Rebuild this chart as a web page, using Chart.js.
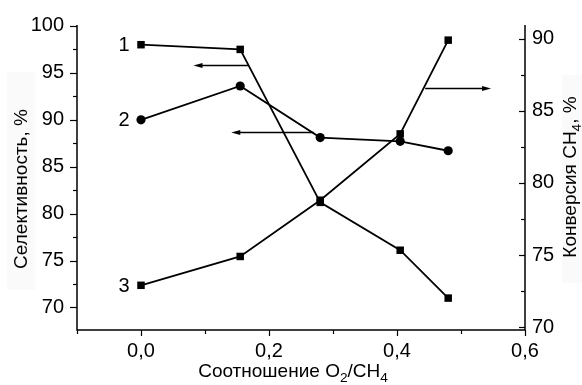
<!DOCTYPE html>
<html>
<head>
<meta charset="utf-8">
<script src="https://cdn.jsdelivr.net/npm/chart.js@4"></script>
<style>
html,body{margin:0;padding:0;background:#fff;}
#wrap{width:582px;height:385px;position:relative;}
</style>
</head>
<body>
<div id="wrap"><canvas id="c" width="582" height="385"></canvas></div>
<script>
// ---- data ----
const ratioO2CH4 = [0, 0.155, 0.28, 0.405, 0.48];
const selectivity1 = [98.0, 97.5, 81.2, 76.1, 71.0];
const selectivity2 = [90.0, 93.6, 88.1, 87.7, 86.7];
const conversion3 = [72.9, 74.9, 78.8, 83.4, 89.9];
const seriesLabels = ['1', '2', '3'];
const xTickValues = [0, 0.2, 0.4, 0.6];
const xMinorTicks = [-0.1, 0.1, 0.3, 0.5];
const leftTickValues = [70, 75, 80, 85, 90, 95, 100];
const leftMinorTicks = [72.5, 77.5, 82.5, 87.5, 92.5, 97.5];
const rightTickValues = [70, 75, 80, 85, 90];
const rightMinorTicks = [72.5, 77.5, 82.5, 87.5];
const xTitle = [['Соотношение O', 0], ['2', 1], ['/CH', 0], ['4', 1]];
const leftTitle = [['Селективность, %', 0]];
const rightTitle = [['Конверсия CH', 0], ['4', 1], [', %', 0]];
// arrows: [x from, x to, y, axis]
const arrows = [[0.168, 0.082, 95.8, 'y'], [0.27, 0.141, 88.7, 'y'], [0.444, 0.547, 86.6, 'y2']];

const FONT = "'Liberation Sans', Arial, sans-serif";
const pts = (ys) => ratioO2CH4.map((x, i) => ({x, y: ys[i]}));

function drawRich(ctx, parts, size) {
  let w = 0;
  parts.forEach(([t, s]) => { ctx.font = (s ? size * 0.72 : size) + 'px ' + FONT; w += ctx.measureText(t).width; });
  let x = -w / 2;
  parts.forEach(([t, s]) => {
    ctx.font = (s ? size * 0.72 : size) + 'px ' + FONT;
    ctx.fillText(t, x, s ? size * 0.32 : 0);
    x += ctx.measureText(t).width;
  });
}

const deco = {
  id: 'deco',
  beforeDraw(chart) {
    const ctx = chart.ctx;
    ctx.save();
    ctx.fillStyle = '#fafafa';
    ctx.fillRect(7, 72, 28, 218);
    ctx.fillRect(562, 75, 20, 208);
    ctx.restore();
  },
  afterDraw(chart) {
    const ctx = chart.ctx, a = chart.chartArea;
    const sx = chart.scales.x, sy = chart.scales.y, sy2 = chart.scales.y2;
    ctx.save();
    ctx.strokeStyle = '#000'; ctx.fillStyle = '#000';
    ctx.lineWidth = 1.5;
    ctx.beginPath();
    ctx.moveTo(a.left, a.top); ctx.lineTo(a.left, a.bottom); ctx.lineTo(a.right, a.bottom); ctx.lineTo(a.right, a.top);
    ctx.stroke();
    ctx.lineWidth = 1.2;
    const vt = (scale, vals, x0, len) => vals.forEach(v => { const y = Math.round(scale.getPixelForValue(v)) + 0.5; ctx.beginPath(); ctx.moveTo(x0, y); ctx.lineTo(x0 + len, y); ctx.stroke(); });
    vt(sy, leftTickValues, a.left, -7);
    vt(sy, leftMinorTicks, a.left, -4);
    vt(sy2, rightTickValues, a.right, -6);
    vt(sy2, rightMinorTicks, a.right, -4);
    const ht = (vals, len) => vals.forEach(v => { const x = Math.round(sx.getPixelForValue(v)) + 0.5; ctx.beginPath(); ctx.moveTo(x, a.bottom); ctx.lineTo(x, a.bottom + len); ctx.stroke(); });
    ht(xTickValues, 6);
    ht(xMinorTicks, 4);
    // arrows
    ctx.lineWidth = 1.3;
    arrows.forEach(([x1, x2, yv, ax]) => {
      const p1 = sx.getPixelForValue(x1), p2 = sx.getPixelForValue(x2);
      const y = Math.round(chart.scales[ax].getPixelForValue(yv)) + 0.5;
      const d = p2 > p1 ? 1 : -1;
      ctx.beginPath(); ctx.moveTo(p1, y); ctx.lineTo(p2 - d * 6, y); ctx.stroke();
      ctx.beginPath(); ctx.moveTo(p2, y); ctx.lineTo(p2 - d * 9, y - 2.5); ctx.lineTo(p2 - d * 9, y + 2.5); ctx.closePath(); ctx.fill();
    });
    // series labels
    ctx.font = '20px ' + FONT;
    ctx.textAlign = 'center'; ctx.textBaseline = 'middle';
    const firsts = [[selectivity1[0], 'y'], [selectivity2[0], 'y'], [conversion3[0], 'y2']];
    firsts.forEach(([v, ax], i) => {
      ctx.fillText(seriesLabels[i], sx.getPixelForValue(ratioO2CH4[0]) - 17, chart.scales[ax].getPixelForValue(v) + 1);
    });
    // titles
    ctx.textAlign = 'left';
    ctx.save(); ctx.translate((a.left + a.right) / 2 - 8, 372); drawRich(ctx, xTitle, 19); ctx.restore();
    ctx.save(); ctx.translate(22, 189); ctx.rotate(-Math.PI / 2); drawRich(ctx, leftTitle, 19); ctx.restore();
    ctx.save(); ctx.translate(571, 177); ctx.rotate(-Math.PI / 2); drawRich(ctx, rightTitle, 19); ctx.restore();
    ctx.restore();
  }
};

const ds = (data, axis, style, r) => ({
  data, yAxisID: axis, borderColor: '#000', backgroundColor: '#000', borderWidth: 1.8,
  pointStyle: style, pointRadius: r, pointHoverRadius: r, pointBorderWidth: 0, tension: 0, fill: false
});

new Chart(document.getElementById('c'), {
  type: 'line',
  data: {
    datasets: [
      ds(pts(selectivity1), 'y', 'rect', 5.3),
      ds(pts(selectivity2), 'y', 'circle', 4.6),
      ds(pts(conversion3), 'y2', 'rect', 5.3)
    ]
  },
  options: {
    responsive: false, animation: false, devicePixelRatio: 1,
    layout: { padding: { top: 21, left: 0, right: 0, bottom: 0 } },
    plugins: { legend: { display: false }, tooltip: { enabled: false } },
    scales: {
      x: {
        type: 'linear', min: -0.1, max: 0.6,
        grid: { display: false, drawTicks: false }, border: { display: false },
        afterBuildTicks: s => { s.ticks = xTickValues.map(v => ({ value: v })); },
        afterFit: s => { s.height = 55; },
        ticks: { color: '#000', padding: 9, font: { family: FONT, size: 20 }, maxRotation: 0, autoSkip: false,
          callback: v => v.toFixed(1).replace('.', ',') }
      },
      y: {
        position: 'left', min: 67.6, max: 100.1,
        grid: { display: false, drawTicks: false }, border: { display: false },
        afterBuildTicks: s => { s.ticks = leftTickValues.map(v => ({ value: v })); },
        afterFit: s => { s.width = 77; },
        ticks: { color: '#000', padding: 13, font: { family: FONT, size: 20 } }
      },
      y2: {
        position: 'right', min: 69.8, max: 90.95,
        grid: { display: false, drawTicks: false }, border: { display: false },
        afterBuildTicks: s => { s.ticks = rightTickValues.map(v => ({ value: v })); },
        afterFit: s => { s.width = 57; },
        ticks: { color: '#000', padding: 7, font: { family: FONT, size: 20 } }
      }
    }
  },
  plugins: [deco]
});
</script>
</body>
</html>
